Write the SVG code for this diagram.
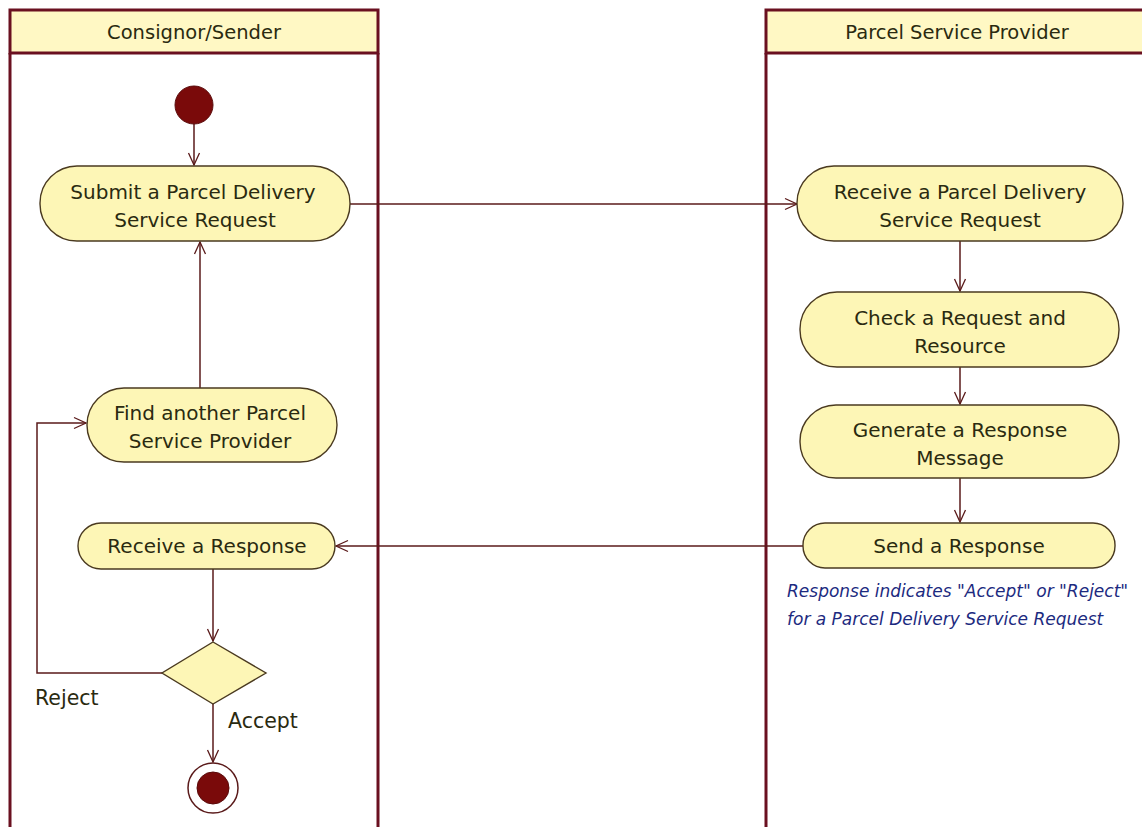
<svg xmlns="http://www.w3.org/2000/svg" width="1142" height="827" viewBox="0 0 1142 827">
  <style>
    .lane { fill: none; stroke: #6a1020; stroke-width: 3; }
    .lanehead { fill: #fff8c4; stroke: #6a1020; stroke-width: 3; }
    .head { font-family: "DejaVu Sans", sans-serif; font-size: 19.5px; fill: #2a2a10; text-anchor: middle; }
    .act { fill: #fdf6b6; stroke: #4a3a20; stroke-width: 1.4; }
    .label { font-family: "DejaVu Sans", sans-serif; font-size: 20px; fill: #2a2a10; text-anchor: middle; }
    .guard { font-family: "DejaVu Sans", sans-serif; font-size: 20.5px; fill: #2a2a10; }
    .note { font-family: "DejaVu Sans", sans-serif; font-size: 17px; font-style: italic; fill: #1c2a80; }
    .flow { fill: none; stroke: #5a1a1a; stroke-width: 1.5; }
    .dot { fill: #7a0a0a; stroke: #5a0a0a; stroke-width: 1; }
  </style>
  <defs>
    <marker id="open" viewBox="0 0 14 14" refX="13" refY="7" markerWidth="14" markerHeight="14" markerUnits="userSpaceOnUse" orient="auto">
      <path d="M1,1.5 L13,7 L1,12.5" fill="none" stroke="#5a1a1a" stroke-width="1.3"/>
    </marker>
  </defs>
  <rect width="1142" height="827" fill="#ffffff"/>

  <!-- swimlanes -->
  <g id="lane-sender">
    <rect class="lanehead" x="10" y="10" width="368" height="43"/>
    <line class="lane" x1="10" y1="53" x2="10" y2="827"/>
    <line class="lane" x1="378" y1="53" x2="378" y2="827"/>
    <text class="head" x="194" y="39">Consignor/Sender</text>
  </g>
  <g id="lane-provider">
    <rect class="lanehead" x="766" y="10" width="390" height="43"/>
    <line class="lane" x1="766" y1="53" x2="766" y2="827"/>
    <text class="head" x="957" y="39">Parcel Service Provider</text>
  </g>

  <!-- control flows -->
  <g id="connectors">
    <line class="flow" x1="194" y1="124" x2="194" y2="165" marker-end="url(#open)"/>
    <line class="flow" x1="350" y1="204" x2="797" y2="204" marker-end="url(#open)"/>
    <line class="flow" x1="960" y1="241" x2="960" y2="291" marker-end="url(#open)"/>
    <line class="flow" x1="960" y1="367" x2="960" y2="404" marker-end="url(#open)"/>
    <line class="flow" x1="960" y1="478" x2="960" y2="522" marker-end="url(#open)"/>
    <line class="flow" x1="803" y1="546" x2="336" y2="546" marker-end="url(#open)"/>
    <line class="flow" x1="213" y1="569" x2="213" y2="641" marker-end="url(#open)"/>
    <polyline class="flow" points="162,673 37,673 37,423 86,423" marker-end="url(#open)"/>
    <line class="flow" x1="200" y1="388" x2="200" y2="242" marker-end="url(#open)"/>
    <line class="flow" x1="213" y1="704" x2="213" y2="762" marker-end="url(#open)"/>
    <text class="guard" x="35" y="705">Reject</text>
    <text class="guard" x="228" y="728">Accept</text>
  </g>

  <!-- nodes -->
  <g id="start">
    <circle class="dot" cx="194" cy="105" r="19"/>
  </g>
  <g id="submit-request">
    <rect class="act" x="40" y="166" width="310" height="75" rx="37" ry="37"/>
    <text class="label" x="193" y="199">Submit a Parcel Delivery</text>
    <text class="label" x="195" y="227">Service Request</text>
  </g>
  <g id="receive-request">
    <rect class="act" x="797" y="166" width="326" height="75" rx="37" ry="37"/>
    <text class="label" x="960" y="199">Receive a Parcel Delivery</text>
    <text class="label" x="960" y="227">Service Request</text>
  </g>
  <g id="check-request">
    <rect class="act" x="800" y="292" width="319" height="75" rx="37" ry="37"/>
    <text class="label" x="960" y="325">Check a Request and</text>
    <text class="label" x="960" y="353">Resource</text>
  </g>
  <g id="generate-response">
    <rect class="act" x="800" y="405" width="319" height="73" rx="36" ry="36"/>
    <text class="label" x="960" y="437">Generate a Response</text>
    <text class="label" x="960" y="465">Message</text>
  </g>
  <g id="send-response">
    <rect class="act" x="803" y="523" width="312" height="45" rx="22" ry="22"/>
    <text class="label" x="959" y="553">Send a Response</text>
  </g>
  <g id="response-note">
    <text class="note" x="787" y="597">Response indicates "Accept" or "Reject"</text>
    <text class="note" x="787" y="625">for a Parcel Delivery Service Request</text>
  </g>
  <g id="find-provider">
    <rect class="act" x="87" y="388" width="250" height="74" rx="37" ry="37"/>
    <text class="label" x="210" y="420">Find another Parcel</text>
    <text class="label" x="210" y="448">Service Provider</text>
  </g>
  <g id="receive-response">
    <rect class="act" x="78" y="523" width="257" height="46" rx="23" ry="23"/>
    <text class="label" x="207" y="553">Receive a Response</text>
  </g>
  <g id="decision">
    <polygon class="act" points="213,642 266,673 213,704 162,673"/>
  </g>
  <g id="end">
    <circle cx="213" cy="788" r="25" fill="#ffffff" stroke="#5a1a1a" stroke-width="1.5"/>
    <circle class="dot" cx="213" cy="788" r="16"/>
  </g>
</svg>
